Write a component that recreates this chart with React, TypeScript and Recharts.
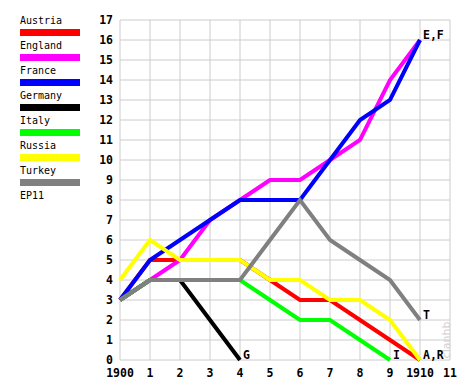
import { LineChart, Line, XAxis, YAxis, CartesianGrid } from 'recharts';

const years = [0, 1, 2, 3, 4, 5, 6, 7, 8, 9, 10];
const austria = [3, 5, 5, 5, 5, 4, 3, 3, 2, 1, 0];
const england = [3, 4, 5, 7, 8, 9, 9, 10, 11, 14, 16];
const france = [3, 5, 6, 7, 8, 8, 8, 10, 12, 13, 16];
const germany = [3, 4, 4, 2, 0, null, null, null, null, null, null];
const italy = [3, 4, 4, 4, 4, 3, 2, 2, 1, 0, null];
const russia = [4, 6, 5, 5, 5, 4, 4, 3, 3, 2, 0];
const turkey = [3, 4, 4, 4, 4, 6, 8, 6, 5, 4, 2];

const xTicks = [0, 1, 2, 3, 4, 5, 6, 7, 8, 9, 10, 11];
const yTicks = [0, 1, 2, 3, 4, 5, 6, 7, 8, 9, 10, 11, 12, 13, 14, 15, 16, 17];

const series = [
  { key: 'austria', name: 'Austria', color: '#ff0000', values: austria, end: 'A,R' },
  { key: 'england', name: 'England', color: '#ff00ff', values: england, end: 'E,F' },
  { key: 'france', name: 'France', color: '#0000ff', values: france, end: '' },
  { key: 'germany', name: 'Germany', color: '#000000', values: germany, end: 'G' },
  { key: 'italy', name: 'Italy', color: '#00ff00', values: italy, end: 'I' },
  { key: 'russia', name: 'Russia', color: '#ffff00', values: russia, end: '' },
  { key: 'turkey', name: 'Turkey', color: '#808080', values: turkey, end: 'T' },
];

const data = years.map((x, i) => {
  const row: Record<string, number | null> = { x };
  series.forEach((s) => {
    row[s.key] = s.values[i];
  });
  return row;
});

const MONO = '"DejaVu Sans Mono", monospace';

function lastIndex(values: (number | null)[]) {
  let last = 0;
  values.forEach((v, i) => {
    if (v !== null) last = i;
  });
  return last;
}

// label only the last point of a series
function endLabel(text: string, idx: number) {
  return (props: any) => {
    if (!text || props.index !== idx) return null;
    return (
      <text
        x={props.x + 3}
        y={props.y - 1}
        fontFamily={MONO}
        fontWeight="bold"
        fontSize={11.5}
        fill="#000"
      >
        {text}
      </text>
    );
  };
}

export default function App() {
  return (
    <div style={{ position: 'absolute', left: 0, top: 0, width: 475, height: 390, background: '#fff' }}>
      <LineChart width={475} height={390} data={data} margin={{ top: 20, right: 25, bottom: 0, left: 0 }}>
        <CartesianGrid stroke="#cccccc" horizontalValues={yTicks} verticalValues={xTicks} />
        <XAxis
          dataKey="x"
          type="number"
          domain={[0, 11]}
          ticks={xTicks}
          height={30}
          axisLine={false}
          tickLine={false}
          tickSize={0}
          tickMargin={9}
          interval={0}
          tick={{ fontFamily: MONO, fontWeight: 'bold', fontSize: 11.5, fill: '#000' }}
          tickFormatter={(v: number) => (v === 0 ? '1900' : v === 10 ? '1910' : String(v))}
        />
        <YAxis
          type="number"
          domain={[0, 17]}
          ticks={yTicks}
          width={120}
          axisLine={false}
          tickLine={false}
          tickSize={0}
          tickMargin={7}
          interval={0}
          tick={{ fontFamily: MONO, fontWeight: 'bold', fontSize: 11.5, fill: '#000' }}
        />
        {series.map((s) => (
          <Line
            key={s.key}
            type="linear"
            dataKey={s.key}
            stroke={s.color}
            strokeWidth={4}
            dot={false}
            activeDot={false}
            connectNulls={false}
            isAnimationActive={false}
            label={endLabel(s.end, lastIndex(s.values))}
          />
        ))}
      </LineChart>
      <div style={{ position: 'absolute', left: 20, top: 15, fontFamily: MONO, fontSize: 10, color: '#000' }}>
        {series.map((s) => (
          <div key={s.key} style={{ height: 25, position: 'relative' }}>
            <div style={{ lineHeight: '12px' }}>{s.name}</div>
            <div style={{ position: 'absolute', top: 14, left: 0, width: 60, height: 7, background: s.color }} />
          </div>
        ))}
        <div style={{ lineHeight: '12px' }}>EP11</div>
      </div>
      <svg style={{ position: 'absolute', left: 0, top: 0 }} width={475} height={390}>
        <text
          x={450}
          y={340}
          transform="rotate(-90 450 340)"
          textAnchor="middle"
          fontFamily="DejaVu Sans, sans-serif"
          fontSize={11}
          fill="#d0d0d0"
        >
          clanhb
        </text>
      </svg>
    </div>
  );
}
